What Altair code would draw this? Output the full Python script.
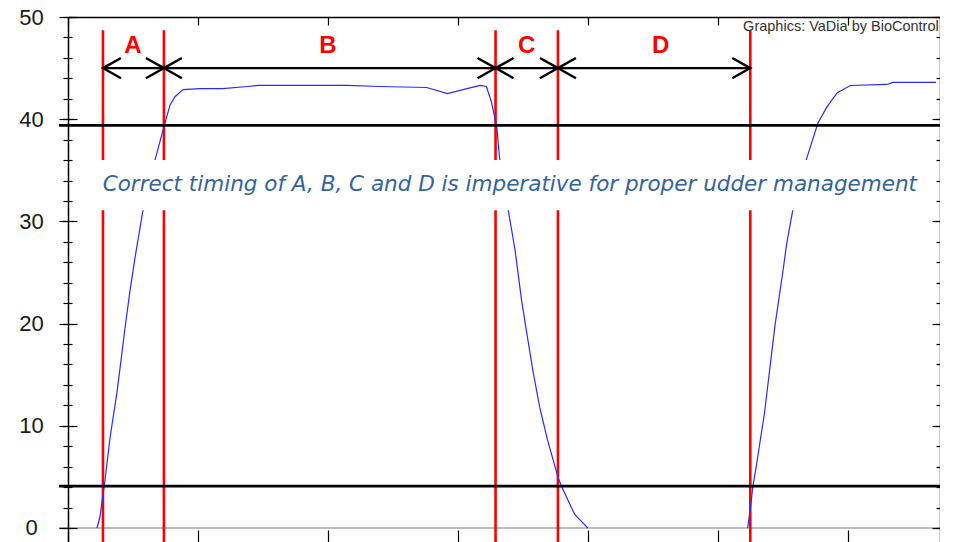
import altair as alt
import pandas as pd

# ---------------- data ----------------
# vacuum curve, first cycle (time units, vacuum value)
seg1_t = [2.23, 2.46, 2.85, 3.23, 3.77, 4.0, 4.38, 4.77, 5.15, 5.77, 6.69, 7.31, 7.85,
          8.23, 8.85, 10.15, 11.9, 13.8, 14.6, 17.6, 21.5, 24.0, 27.6, 29.2, 30.4,
          31.7, 32.2, 32.6, 33.0, 33.2, 33.85, 34.4, 34.9, 35.3, 35.8, 36.3, 36.9,
          37.7, 38.0, 39.0, 39.4, 40.0]
seg1_v = [0, 1.1, 4.7, 8.8, 13.3, 15.6, 19.5, 23.2, 26.4, 31.1, 36.0, 38.9, 41.4,
          42.2, 42.9, 43.0, 43.0, 43.2, 43.3, 43.3, 43.3, 43.2, 43.1, 42.5, 42.9,
          43.3, 43.2, 41.6, 39.2, 36.3, 31.3, 27.2, 22.3, 19.1, 15.2, 11.8, 8.6,
          5.0, 4.0, 1.3, 0.8, 0]
# second cycle
seg2_t = [52.3, 52.54, 52.7, 52.92, 53.6, 54.4, 55.0, 55.3, 55.9, 56.8, 57.7, 58.4,
          59.2, 60.2, 63.0, 63.5, 66.8]
seg2_v = [0, 2.25, 4.1, 5.7, 11.3, 19.8, 25.0, 27.8, 32.0, 36.0, 39.6, 41.2,
          42.6, 43.3, 43.4, 43.6, 43.6]

# phase boundaries (red lines)
phase_t = [2.69, 7.38, 32.9, 37.7, 52.5]
phase_top = 48.7
# threshold lines
thresholds = [39.4, 4.1]
# phase labels
phase_labels = ["A", "B", "C", "D"]
phase_label_t = [5.0, 20.0, 35.3, 45.6]
phase_label_v = 47.2
arrow_v = 45.0

caption = "Correct timing of A, B, C and D is imperative for proper udder management"
caption_t = 34.0
caption_v = 33.6
caption_box_t = [2.0, 66.0]
caption_box_v = [31.1, 36.0]

credit = "Graphics: VaDia by BioControl"
credit_t = 67.0
credit_v = 49.0

x_min, x_max = 0, 67.1
y_min, y_max = -1.37, 50
line_left, line_right = -0.69, 67.1

y_major = [0, 10, 20, 30, 40, 50]
y_minor = list(range(0, 51, 2))
x_major = [0, 10, 20, 30, 40, 50, 60]

W, H = 872, 525

# ---------------- scales & axes ----------------
xs = alt.Scale(domain=[x_min, x_max], nice=False, zero=False)
ys = alt.Scale(domain=[y_min, y_max], nice=False, zero=False)


def tick_axis(orient, values, size, offset=0, domain=False, color="black"):
    return alt.Axis(orient=orient, values=values, tickSize=size, offset=offset,
                    labels=False, domain=domain, domainColor=color, domainWidth=1.5,
                    tickColor="black", tickWidth=1.2, grid=False, title=None, zindex=1)


ax_left = alt.Axis(orient="left", values=y_major, tickSize=9, labelPadding=28,
                   labelAlign="center",
                   labelFont="Liberation Sans", labelFontSize=22, labelColor="#1a1a1a",
                   labelOverlap=False, domainColor="black", domainWidth=1.5,
                   tickColor="black", tickWidth=1.2, grid=False, title=None, zindex=1)
ax_left_minor = tick_axis("left", y_minor, 5)
ax_left_in_major = tick_axis("right", y_major, 9, offset=-W)
ax_left_in_minor = tick_axis("right", y_minor, 4, offset=-W)
ax_right_major = tick_axis("left", y_major, 8, offset=-W, domain=True, color="#333333")
ax_right_minor = tick_axis("left", y_minor, 4, offset=-W)
ax_top = tick_axis("bottom", x_major, 8, offset=-H, domain=True)
ax_bottom = tick_axis("top", x_major, 12, offset=-H)

# ---------------- tables ----------------
curve_df = pd.concat([
    pd.DataFrame({"t": seg1_t, "v": seg1_v, "seg": 1}),
    pd.DataFrame({"t": seg2_t, "v": seg2_v, "seg": 2}),
])
zero_df = pd.DataFrame({"t": [line_left], "t2": [line_right], "v": [0]})
thr_df = pd.DataFrame({"t": [line_left] * len(thresholds),
                       "t2": [line_right] * len(thresholds), "v": thresholds})
red_df = pd.DataFrame({"t": phase_t, "v": [phase_top] * len(phase_t),
                       "v2": [y_min] * len(phase_t)})
arrow_df = pd.DataFrame({"t": phase_t[:-1], "t2": phase_t[1:],
                         "v": [arrow_v] * (len(phase_t) - 1)})
lab_df = pd.DataFrame({"t": phase_label_t, "v": [phase_label_v] * 4, "lab": phase_labels})
cap_df = pd.DataFrame({"t": [caption_t], "v": [caption_v], "txt": [caption]})
box_df = pd.DataFrame({"t": [caption_box_t[0]], "t2": [caption_box_t[1]],
                       "v": [caption_box_v[0]], "v2": [caption_box_v[1]]})
credit_df = pd.DataFrame({"t": [credit_t], "v": [credit_v], "txt": [credit]})

# ---------------- layers ----------------
zero = alt.Chart(zero_df).mark_rule(color="#7a7a7a", strokeWidth=1.2).encode(
    x=alt.X("t:Q", scale=xs, axis=ax_top), x2="t2",
    y=alt.Y("v:Q", scale=ys, axis=ax_left))

red = alt.Chart(red_df).mark_rule(color="#ff0000", strokeWidth=2.6).encode(
    x=alt.X("t:Q", scale=xs, axis=ax_bottom),
    y=alt.Y("v:Q", scale=ys, axis=ax_left_minor), y2="v2")

curve = alt.Chart(curve_df).mark_line(color="#2a2aff", strokeWidth=1.2).encode(
    x=alt.X("t:Q", scale=xs, axis=None),
    y=alt.Y("v:Q", scale=ys, axis=ax_left_in_major),
    detail="seg:N")

thr = alt.Chart(thr_df).mark_rule(color="black", strokeWidth=2.6).encode(
    x=alt.X("t:Q", scale=xs, axis=None), x2="t2",
    y=alt.Y("v:Q", scale=ys, axis=ax_left_in_minor))

box = alt.Chart(box_df).mark_rect(color="white").encode(
    x=alt.X("t:Q", scale=xs, axis=None), x2="t2",
    y=alt.Y("v:Q", scale=ys, axis=ax_right_major), y2="v2")

cap = alt.Chart(cap_df).mark_text(font="DejaVu Sans", fontStyle="italic", fontSize=21.5,
                                  color="#33639a", align="center", baseline="middle").encode(
    x=alt.X("t:Q", scale=xs, axis=None),
    y=alt.Y("v:Q", scale=ys, axis=ax_right_minor), text="txt:N")

arrows = alt.Chart(arrow_df).mark_rule(color="black", strokeWidth=2.2).encode(
    x=alt.X("t:Q", scale=xs, axis=None), x2="t2",
    y=alt.Y("v:Q", scale=ys, axis=None))

head_l = alt.Chart(arrow_df).mark_point(
    shape="M1,-0.56L0,0L1,0.56", size=1296, filled=False, color="black",
    strokeWidth=2.4, opacity=1).encode(
    x=alt.X("t:Q", scale=xs, axis=None), y=alt.Y("v:Q", scale=ys, axis=None))

head_r = alt.Chart(arrow_df).mark_point(
    shape="M-1,-0.56L0,0L-1,0.56", size=1296, filled=False, color="black",
    strokeWidth=2.4, opacity=1).encode(
    x=alt.X("t2:Q", scale=xs, axis=None), y=alt.Y("v:Q", scale=ys, axis=None))

labels = alt.Chart(lab_df).mark_text(font="Liberation Sans", fontWeight="bold",
                                     fontSize=24, color="#ff0000", align="center",
                                     baseline="middle").encode(
    x=alt.X("t:Q", scale=xs, axis=None), y=alt.Y("v:Q", scale=ys, axis=None),
    text="lab:N")

cred = alt.Chart(credit_df).mark_text(font="Liberation Sans", fontSize=14.5,
                                      color="#333333", align="right",
                                      baseline="middle").encode(
    x=alt.X("t:Q", scale=xs, axis=None), y=alt.Y("v:Q", scale=ys, axis=None),
    text="txt:N")

chart = alt.layer(zero, red, curve, thr, box, cap, arrows, head_l, head_r, labels, cred
                  ).resolve_axis(x="independent", y="independent").properties(
    width=W, height=H,
    autosize=alt.AutoSizeParams(type="none"),
    padding={"left": 60, "top": 9, "right": 0, "bottom": 0},
    background="white",
).configure_view(stroke=None)

chart.save("out.html", embed_options={"renderer": "svg", "actions": False})
